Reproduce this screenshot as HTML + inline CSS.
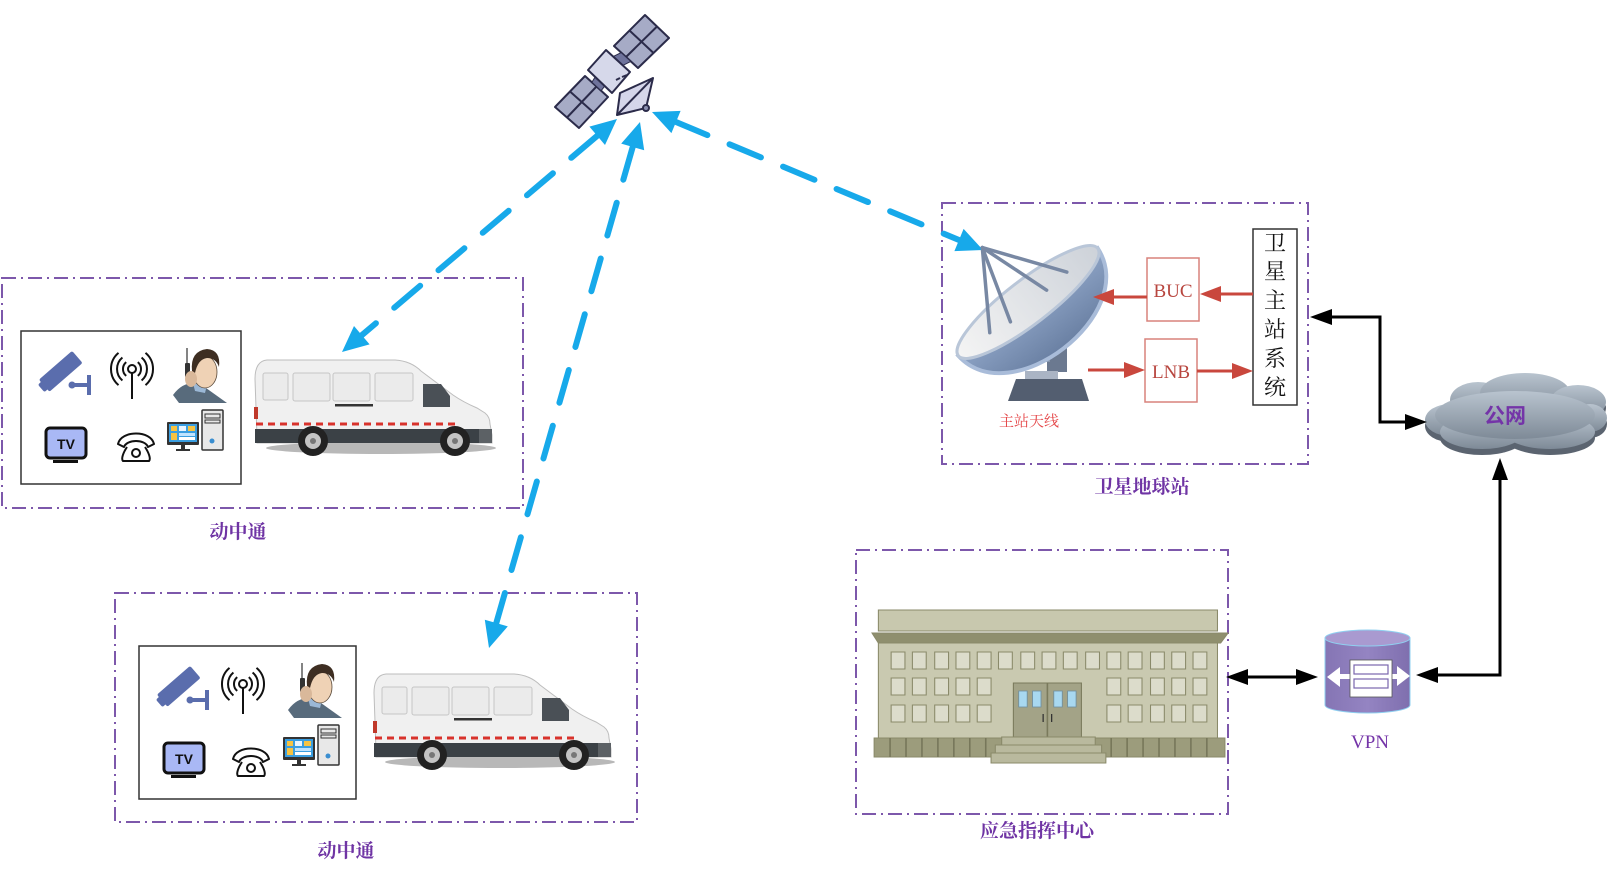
<!DOCTYPE html>
<html>
<head>
<meta charset="utf-8">
<style>
html,body{margin:0;padding:0;background:#fff;}
svg{display:block;}
.lbl{font-family:"Liberation Serif","Noto Serif CJK SC",serif;font-weight:bold;fill:#6f34a4;font-size:19px;}
</style>
</head>
<body>
<svg width="1617" height="871" viewBox="0 0 1617 871" xmlns="http://www.w3.org/2000/svg">
<defs>
<linearGradient id="dishBack" x1="0" y1="0" x2="0" y2="1">
 <stop offset="0" stop-color="#8ea4c6"/><stop offset="1" stop-color="#6a80a3"/>
</linearGradient>
<linearGradient id="dishFace" x1="0" y1="0" x2="1" y2="0">
 <stop offset="0" stop-color="#f4f4f4"/><stop offset="1" stop-color="#cdd2d9"/>
</linearGradient>
<linearGradient id="cloudG" x1="0" y1="0" x2="0" y2="1">
 <stop offset="0" stop-color="#b9c4cf"/><stop offset="1" stop-color="#7e8a97"/>
</linearGradient>
<linearGradient id="vpnG" x1="0" y1="0" x2="1" y2="0">
 <stop offset="0" stop-color="#8575b4"/><stop offset="0.5" stop-color="#9484c2"/><stop offset="1" stop-color="#7f6fae"/>
</linearGradient>
</defs>
<rect width="1617" height="871" fill="#fff"/>

<!-- dashed group boxes -->
<g fill="none" stroke="#7d58ab" stroke-width="2" stroke-dasharray="14 5 2 5">
 <rect x="2" y="278" width="521" height="230"/>
 <rect x="115" y="593" width="522" height="229"/>
 <rect x="942" y="203" width="366" height="261"/>
 <rect x="856" y="550" width="372" height="264"/>
</g>

<!-- ===== Satellite ===== -->
<g stroke="#2b2b4a" stroke-width="2" stroke-linejoin="round">
 <polygon points="645,15 669,38 638,68 614,46" fill="#a6abc6"/>
 <line x1="629.5" y1="30.5" x2="653.5" y2="53"/>
 <line x1="657" y1="26.5" x2="626" y2="57"/>
 <polygon points="585,76 608,97 579,128 555,107" fill="#a6abc6"/>
 <line x1="570" y1="91.5" x2="593.5" y2="112.5"/>
 <line x1="596.5" y1="86.5" x2="567" y2="117.5"/>
 <polygon points="613.2,56.6 621.2,52.6 630.8,61.4 622.8,65.4" fill="#6f739c" stroke-width="1"/>
 <polygon points="595.2,76.9 604.8,86.1 601.1,90.7 591.9,82.3" fill="#6f739c" stroke-width="1"/>
 <polygon points="606,50 630,72 612,93 588,70" fill="#d6d8ea"/>
 <polygon points="620,93 653,78 646,108 617,115" fill="#d5d6ea"/>
 <line x1="617" y1="115" x2="653" y2="78"/>
 <circle cx="646" cy="108" r="3" fill="#8a8fb0"/>
</g>
<line x1="616" y1="80" x2="620" y2="78" stroke="#2b2b4a" stroke-width="2"/>
<line x1="622" y1="77" x2="627" y2="75" stroke="#2b2b4a" stroke-width="2"/>

<!-- ===== Blue dashed links ===== -->
<g stroke="#17a9ea" stroke-width="6" stroke-linecap="round" stroke-dasharray="34 24" fill="none">
 <line x1="597.2" y1="135.8" x2="361.8" y2="335.2"/>
 <line x1="632.7" y1="147.0" x2="496.3" y2="623.0"/>
 <line x1="676.0" y1="122.0" x2="959.0" y2="240.0"/>
</g>
<g fill="#17a9ea">
 <polygon points="342,352 369.6,344.4 354.0,326.0"/>
 <polygon points="617,119 605.0,145.0 589.4,126.6"/>
 <polygon points="489,648 507.8,626.4 484.8,619.7"/>
 <polygon points="640,122 644.2,150.3 621.2,143.6"/>
 <polygon points="983,250 954.4,251.1 963.6,228.9"/>
 <polygon points="652,112 671.4,133.1 680.6,110.9"/>
</g>

<!-- ===== Panel 1 icons ===== -->
<g transform="translate(21,331)">
 <rect x="0" y="0" width="220" height="153" fill="#fff" stroke="#333" stroke-width="1.5"/>
 <g fill="#5a6dad">
  <g transform="translate(39,41) rotate(-41)">
   <rect x="-21" y="-8" width="44" height="16" rx="2"/>
   <rect x="-25" y="-5" width="6" height="10" rx="2"/>
  </g>
  <circle cx="51" cy="54" r="3.5"/>
  <rect x="51" y="52" width="15" height="4"/>
  <rect x="66" y="44" width="4" height="20"/>
 </g>
 <g fill="none" stroke="#111" stroke-width="2">
  <circle cx="111" cy="38" r="4"/>
  <line x1="111" y1="42" x2="111" y2="68"/>
  <path d="M105.2,31.1 A9,9 0 0 0 105.2,44.9"/>
  <path d="M116.8,31.1 A9,9 0 0 1 116.8,44.9"/>
  <path d="M101.4,26.5 A15,15 0 0 0 101.4,49.5"/>
  <path d="M120.6,26.5 A15,15 0 0 1 120.6,49.5"/>
  <path d="M97.5,21.9 A21,21 0 0 0 97.5,54.1"/>
  <path d="M124.5,21.9 A21,21 0 0 1 124.5,54.1"/>
 </g>
 <path d="M152,64 Q162,50 178,52 L206,72 L158,72 Z" fill="#586b7c"/>
 <path d="M172,52 L186,54 L184,62 L174,60 Z" fill="#9bb8d6"/>
 <ellipse cx="184" cy="41" rx="12" ry="16" fill="#efd2b5" stroke="#5a4a3a" stroke-width="0.8"/>
 <path d="M171,40 Q169,20 186,18 Q200,19 198,36 Q195,27 186,27 Q177,28 174,42 Z" fill="#3e2e22"/>
 <line x1="166" y1="17" x2="166" y2="32" stroke="#333" stroke-width="1.2"/>
 <rect x="164" y="32" width="5" height="14" fill="#333" rx="1"/>
 <ellipse cx="170" cy="48" rx="6" ry="8" fill="#d9b89a"/>
 <rect x="25" y="97" width="40" height="30" rx="4" fill="#a9b8f5" stroke="#111" stroke-width="3"/>
 <rect x="32" y="129" width="25" height="3" fill="#111"/>
 <text x="45" y="118" text-anchor="middle" font-family="Liberation Sans,sans-serif" font-weight="bold" font-size="14" fill="#111">TV</text>
 <g fill="none" stroke="#111" stroke-width="2" stroke-linejoin="round">
  <path d="M97,113 C100,99 130,99 133,113 L127,116 C124,108 106,108 103,116 Z"/>
  <path d="M106,116 C102,122 100,128 102,130 L128,130 C130,128 128,122 124,116"/>
  <circle cx="115" cy="122" r="4"/>
 </g>
 <rect x="146" y="91" width="32" height="23" fill="#333" rx="1"/>
 <rect x="148" y="93" width="28" height="18" fill="#3a9ee0"/>
 <rect x="150" y="95" width="6" height="5" fill="#f6c342"/>
 <rect x="158" y="95" width="7" height="5" fill="#e8f4ff"/>
 <rect x="167" y="95" width="7" height="5" fill="#f6c342"/>
 <rect x="150" y="102" width="6" height="7" fill="#f6c342"/>
 <rect x="158" y="102" width="16" height="3" fill="#bfe3ff"/>
 <rect x="158" y="106" width="16" height="3" fill="#ffffff"/>
 <rect x="160" y="114" width="4" height="4" fill="#333"/>
 <rect x="155" y="118" width="14" height="2" fill="#333"/>
 <rect x="181" y="79" width="21" height="40" fill="#e8e8e8" stroke="#333" stroke-width="1.5" rx="1"/>
 <rect x="184" y="83" width="15" height="4" fill="none" stroke="#333" stroke-width="1"/>
 <rect x="184" y="89" width="15" height="3" fill="none" stroke="#333" stroke-width="1"/>
 <circle cx="191" cy="110" r="2.5" fill="#3a8ed0"/>
</g>

<!-- ===== Panel 2 icons ===== -->
<g transform="translate(139,646)">
 <rect x="0" y="0" width="217" height="153" fill="#fff" stroke="#333" stroke-width="1.5"/>
 <g fill="#5a6dad">
  <g transform="translate(39,41) rotate(-41)">
   <rect x="-21" y="-8" width="44" height="16" rx="2"/>
   <rect x="-25" y="-5" width="6" height="10" rx="2"/>
  </g>
  <circle cx="51" cy="54" r="3.5"/>
  <rect x="51" y="52" width="15" height="4"/>
  <rect x="66" y="44" width="4" height="20"/>
 </g>
 <g fill="none" stroke="#111" stroke-width="2">
  <circle cx="104" cy="38" r="4"/>
  <line x1="104" y1="42" x2="104" y2="68"/>
  <path d="M98.2,31.1 A9,9 0 0 0 98.2,44.9"/>
  <path d="M109.8,31.1 A9,9 0 0 1 109.8,44.9"/>
  <path d="M94.4,26.5 A15,15 0 0 0 94.4,49.5"/>
  <path d="M113.6,26.5 A15,15 0 0 1 113.6,49.5"/>
  <path d="M90.5,21.9 A21,21 0 0 0 90.5,54.1"/>
  <path d="M117.5,21.9 A21,21 0 0 1 117.5,54.1"/>
 </g>
 <path d="M149,64 Q159,50 175,52 L203,72 L155,72 Z" fill="#586b7c"/>
 <path d="M169,52 L183,54 L181,62 L171,60 Z" fill="#9bb8d6"/>
 <ellipse cx="181" cy="41" rx="12" ry="16" fill="#efd2b5" stroke="#5a4a3a" stroke-width="0.8"/>
 <path d="M168,40 Q166,20 183,18 Q197,19 195,36 Q192,27 183,27 Q174,28 171,42 Z" fill="#3e2e22"/>
 <line x1="163" y1="17" x2="163" y2="32" stroke="#333" stroke-width="1.2"/>
 <rect x="161" y="32" width="5" height="14" fill="#333" rx="1"/>
 <ellipse cx="167" cy="48" rx="6" ry="8" fill="#d9b89a"/>
 <rect x="25" y="97" width="40" height="30" rx="4" fill="#a9b8f5" stroke="#111" stroke-width="3"/>
 <rect x="32" y="129" width="25" height="3" fill="#111"/>
 <text x="45" y="118" text-anchor="middle" font-family="Liberation Sans,sans-serif" font-weight="bold" font-size="14" fill="#111">TV</text>
 <g fill="none" stroke="#111" stroke-width="2" stroke-linejoin="round">
  <path d="M94,113 C97,99 127,99 130,113 L124,116 C121,108 103,108 100,116 Z"/>
  <path d="M103,116 C99,122 97,128 99,130 L125,130 C127,128 125,122 121,116"/>
  <circle cx="112" cy="122" r="4"/>
 </g>
 <rect x="144" y="91" width="32" height="23" fill="#333" rx="1"/>
 <rect x="146" y="93" width="28" height="18" fill="#3a9ee0"/>
 <rect x="148" y="95" width="6" height="5" fill="#f6c342"/>
 <rect x="156" y="95" width="7" height="5" fill="#e8f4ff"/>
 <rect x="165" y="95" width="7" height="5" fill="#f6c342"/>
 <rect x="148" y="102" width="6" height="7" fill="#f6c342"/>
 <rect x="156" y="102" width="16" height="3" fill="#bfe3ff"/>
 <rect x="156" y="106" width="16" height="3" fill="#ffffff"/>
 <rect x="158" y="114" width="4" height="4" fill="#333"/>
 <rect x="153" y="118" width="14" height="2" fill="#333"/>
 <rect x="179" y="79" width="21" height="40" fill="#e8e8e8" stroke="#333" stroke-width="1.5" rx="1"/>
 <rect x="182" y="83" width="15" height="4" fill="none" stroke="#333" stroke-width="1"/>
 <rect x="182" y="89" width="15" height="3" fill="none" stroke="#333" stroke-width="1"/>
 <circle cx="189" cy="110" r="2.5" fill="#3a8ed0"/>
</g>

<!-- ===== Van 1 ===== -->
<g transform="translate(253,357)">
 <ellipse cx="128" cy="91" rx="115" ry="6" fill="#7d7d7d" opacity="0.55"/>
 <path d="M4,80 L2,22 Q2,4 14,3 L142,3 Q158,4 168,14 L200,38 Q210,45 224,51 L232,56 Q237,60 237,67 L239,78 L239,86 L4,86 Z" fill="#f0f0f0" stroke="#bdbdbd" stroke-width="1"/>
 <g fill="#ebebeb" stroke="#c6c6c6" stroke-width="1">
  <rect x="10" y="16" width="25" height="27" rx="2"/>
  <rect x="40" y="16" width="37" height="28" rx="2"/>
  <rect x="80" y="16" width="37" height="28" rx="2"/>
  <rect x="122" y="16" width="38" height="28" rx="2"/>
 </g>
 <rect x="82" y="47" width="38" height="2.5" fill="#333"/>
 <polygon points="170,27 188,27 197,39 197,50 170,50" fill="#4a5056"/>
 <path d="M2,72 L237,72 L239,86 L2,86 Z" fill="#3b4146"/>
 <line x1="3" y1="67" x2="205" y2="67" stroke="#d8322b" stroke-width="3" stroke-dasharray="7 5"/>
 <rect x="226" y="72" width="13" height="14" fill="#5c6165"/>
 <rect x="1" y="50" width="4" height="12" fill="#c0392b"/>
 <circle cx="60" cy="84" r="15" fill="#222"/><circle cx="60" cy="84" r="8" fill="#c4c4c4"/><circle cx="60" cy="84" r="3" fill="#777"/>
 <circle cx="202" cy="84" r="15" fill="#222"/><circle cx="202" cy="84" r="8" fill="#c4c4c4"/><circle cx="202" cy="84" r="3" fill="#777"/>
</g>

<!-- ===== Van 2 ===== -->
<g transform="translate(372,671)">
 <ellipse cx="128" cy="91" rx="115" ry="6" fill="#7d7d7d" opacity="0.55"/>
 <path d="M4,80 L2,22 Q2,4 14,3 L142,3 Q158,4 168,14 L200,38 Q210,45 224,51 L232,56 Q237,60 237,67 L239,78 L239,86 L4,86 Z" fill="#f0f0f0" stroke="#bdbdbd" stroke-width="1"/>
 <g fill="#ebebeb" stroke="#c6c6c6" stroke-width="1">
  <rect x="10" y="16" width="25" height="27" rx="2"/>
  <rect x="40" y="16" width="37" height="28" rx="2"/>
  <rect x="80" y="16" width="37" height="28" rx="2"/>
  <rect x="122" y="16" width="38" height="28" rx="2"/>
 </g>
 <rect x="82" y="47" width="38" height="2.5" fill="#333"/>
 <polygon points="170,27 188,27 197,39 197,50 170,50" fill="#4a5056"/>
 <path d="M2,72 L237,72 L239,86 L2,86 Z" fill="#3b4146"/>
 <line x1="3" y1="67" x2="205" y2="67" stroke="#d8322b" stroke-width="3" stroke-dasharray="7 5"/>
 <rect x="226" y="72" width="13" height="14" fill="#5c6165"/>
 <rect x="1" y="50" width="4" height="12" fill="#c0392b"/>
 <circle cx="60" cy="84" r="15" fill="#222"/><circle cx="60" cy="84" r="8" fill="#c4c4c4"/><circle cx="60" cy="84" r="3" fill="#777"/>
 <circle cx="202" cy="84" r="15" fill="#222"/><circle cx="202" cy="84" r="8" fill="#c4c4c4"/><circle cx="202" cy="84" r="3" fill="#777"/>
</g>

<!-- ===== Dish antenna ===== -->
<rect x="1047" y="318" width="20" height="54" fill="#6b7990"/>
<rect x="1010" y="352" width="40" height="10" fill="#8595ac"/>
<rect x="1025" y="371" width="33" height="8" fill="#aab4c4"/>
<polygon points="1008,401 1016,379 1082,379 1089,401" fill="#535e70"/>
<g transform="translate(1028,302) rotate(-37.6)">
 <path d="M-88,0 C-82,78 82,78 88,0 Z" fill="url(#dishBack)" stroke="#a9bcd9" stroke-width="4"/>
 <ellipse cx="0" cy="0" rx="88" ry="22" fill="url(#dishFace)" stroke="#b9c6d8" stroke-width="3"/>
 <g stroke="#7888a3" stroke-width="3.5" stroke-linecap="round">
  <line x1="-3" y1="-71" x2="49" y2="0"/>
  <line x1="-3" y1="-71" x2="-49" y2="1"/>
  <line x1="-3" y1="-71" x2="-26" y2="5"/>
  <line x1="-3" y1="-71" x2="22" y2="2"/>
 </g>
</g>
<text x="1029" y="426" text-anchor="middle" font-family="Liberation Serif,'Noto Serif CJK SC',serif" font-size="15" fill="#e5484a">主站天线</text>

<!-- BUC / LNB -->
<rect x="1147" y="258" width="52" height="63" fill="#fff" stroke="#d8827c" stroke-width="1.5"/>
<rect x="1145" y="339" width="52" height="63" fill="#fff" stroke="#d8827c" stroke-width="1.5"/>
<text x="1173" y="297" text-anchor="middle" font-family="Liberation Serif,serif" font-size="19" fill="#b8463f">BUC</text>
<text x="1171" y="378" text-anchor="middle" font-family="Liberation Serif,serif" font-size="19" fill="#b8463f">LNB</text>

<!-- system box -->
<rect x="1253" y="229" width="44" height="176" fill="#fff" stroke="#333" stroke-width="1.5"/>
<g font-family="Liberation Serif,'Noto Serif CJK SC',serif" font-size="22" fill="#111" text-anchor="middle">
 <text x="1275" y="251">卫</text>
 <text x="1275" y="279">星</text>
 <text x="1275" y="308">主</text>
 <text x="1275" y="337">站</text>
 <text x="1275" y="366">系</text>
 <text x="1275" y="395">统</text>
</g>

<!-- red arrows -->
<g stroke="#c9473d" stroke-width="3">
 <line x1="1253" y1="294" x2="1218" y2="294"/>
 <line x1="1147" y1="297" x2="1111" y2="297"/>
 <line x1="1088" y1="370" x2="1127" y2="370"/>
 <line x1="1197" y1="371" x2="1235" y2="371"/>
</g>
<g fill="#c9473d">
 <polygon points="1200,294 1221,286 1221,302"/>
 <polygon points="1093,297 1114,289 1114,305"/>
 <polygon points="1145,370 1124,362 1124,378"/>
 <polygon points="1253,371 1232,363 1232,379"/>
</g>

<!-- ===== Cloud ===== -->
<g transform="translate(0,6)" fill="#5b6470">
 <ellipse cx="1450" cy="420" rx="25" ry="16"/>
 <ellipse cx="1478" cy="400" rx="28" ry="18"/>
 <ellipse cx="1525" cy="393" rx="45" ry="20"/>
 <ellipse cx="1578" cy="402" rx="28" ry="17"/>
 <ellipse cx="1590" cy="418" rx="17" ry="14"/>
 <ellipse cx="1482" cy="432" rx="42" ry="17"/>
 <ellipse cx="1550" cy="432" rx="45" ry="17"/>
 <ellipse cx="1515" cy="415" rx="80" ry="24"/>
</g>
<g fill="url(#cloudG)">
 <ellipse cx="1450" cy="420" rx="25" ry="16"/>
 <ellipse cx="1478" cy="400" rx="28" ry="18"/>
 <ellipse cx="1525" cy="393" rx="45" ry="20"/>
 <ellipse cx="1578" cy="402" rx="28" ry="17"/>
 <ellipse cx="1590" cy="418" rx="17" ry="14"/>
 <ellipse cx="1482" cy="432" rx="42" ry="17"/>
 <ellipse cx="1550" cy="432" rx="45" ry="17"/>
 <ellipse cx="1515" cy="415" rx="80" ry="24"/>
</g>
<text x="1505" y="423" text-anchor="middle" font-family="Liberation Sans,'Noto Sans CJK SC',sans-serif" font-weight="bold" font-size="21" fill="#7434a8">公网</text>

<!-- ===== Building ===== -->
<g transform="translate(872,0) scale(1.063,1) translate(-867,0)">
<g stroke="#8a8a6a" stroke-width="1">
 <rect x="873" y="610" width="319" height="21" fill="#c8c8ae"/>
 <polygon points="867,633 1202,633 1195,643 873,643" fill="#8f8f6e"/>
 <rect x="873" y="643" width="319" height="95" fill="#c9c9b0"/>
 <rect x="869" y="738" width="330" height="19" fill="#9c9c7c"/>
</g>
<g stroke="#77775a" stroke-width="1.5">
 <line x1="884" y1="738" x2="884" y2="757"/><line x1="899" y1="738" x2="899" y2="757"/>
 <line x1="914" y1="738" x2="914" y2="757"/><line x1="929" y1="738" x2="929" y2="757"/>
 <line x1="944" y1="738" x2="944" y2="757"/><line x1="959" y1="738" x2="959" y2="757"/>
 <line x1="974" y1="738" x2="974" y2="757"/>
 <line x1="1092" y1="738" x2="1092" y2="757"/><line x1="1107" y1="738" x2="1107" y2="757"/>
 <line x1="1122" y1="738" x2="1122" y2="757"/><line x1="1137" y1="738" x2="1137" y2="757"/>
 <line x1="1152" y1="738" x2="1152" y2="757"/><line x1="1167" y1="738" x2="1167" y2="757"/>
 <line x1="1182" y1="738" x2="1182" y2="757"/>
</g>
<g fill="#dcdccb" stroke="#8a8a6a" stroke-width="1">
 <rect x="885" y="652" width="13" height="17"/><rect x="905" y="652" width="13" height="17"/><rect x="926" y="652" width="13" height="17"/><rect x="946" y="652" width="13" height="17"/><rect x="966" y="652" width="13" height="17"/><rect x="986" y="652" width="13" height="17"/><rect x="1007" y="652" width="13" height="17"/><rect x="1027" y="652" width="13" height="17"/><rect x="1047" y="652" width="13" height="17"/><rect x="1068" y="652" width="13" height="17"/><rect x="1088" y="652" width="13" height="17"/><rect x="1108" y="652" width="13" height="17"/><rect x="1129" y="652" width="13" height="17"/><rect x="1149" y="652" width="13" height="17"/><rect x="1169" y="652" width="13" height="17"/>
 <rect x="885" y="678" width="13" height="17"/><rect x="905" y="678" width="13" height="17"/><rect x="926" y="678" width="13" height="17"/><rect x="946" y="678" width="13" height="17"/><rect x="966" y="678" width="13" height="17"/>
 <rect x="1088" y="678" width="13" height="17"/><rect x="1108" y="678" width="13" height="17"/><rect x="1129" y="678" width="13" height="17"/><rect x="1149" y="678" width="13" height="17"/><rect x="1169" y="678" width="13" height="17"/>
 <rect x="885" y="705" width="13" height="17"/><rect x="905" y="705" width="13" height="17"/><rect x="926" y="705" width="13" height="17"/><rect x="946" y="705" width="13" height="17"/><rect x="966" y="705" width="13" height="17"/>
 <rect x="1088" y="705" width="13" height="17"/><rect x="1108" y="705" width="13" height="17"/><rect x="1129" y="705" width="13" height="17"/><rect x="1149" y="705" width="13" height="17"/><rect x="1169" y="705" width="13" height="17"/>
</g>
<rect x="1000" y="683" width="64" height="54" fill="#a3a387" stroke="#7a7a5c" stroke-width="1"/>
<line x1="1032" y1="683" x2="1032" y2="737" stroke="#7a7a5c" stroke-width="1.5"/>
<g fill="#a8d8f0" stroke="#6f8f9f" stroke-width="0.8">
 <rect x="1005" y="691" width="8" height="16"/><rect x="1018" y="691" width="8" height="16"/>
 <rect x="1038" y="691" width="8" height="16"/><rect x="1051" y="691" width="8" height="16"/>
</g>
<line x1="1028" y1="714" x2="1028" y2="722" stroke="#333" stroke-width="1.2"/>
<line x1="1036" y1="714" x2="1036" y2="722" stroke="#333" stroke-width="1.2"/>
<g fill="#b9b99e" stroke="#8a8a6a" stroke-width="1">
 <rect x="989" y="737" width="88" height="8"/>
 <rect x="983" y="745" width="100" height="8"/>
 <rect x="979" y="753" width="108" height="10"/>
</g>
</g>

<!-- ===== VPN ===== -->
<path d="M1325,638 L1325,705 A42.5,8 0 0 0 1410,705 L1410,638 Z" fill="url(#vpnG)" stroke="#8fd0f0" stroke-width="1"/>
<ellipse cx="1367.5" cy="638" rx="42.5" ry="8" fill="#a99ad0" stroke="#8fd0f0" stroke-width="1"/>
<g fill="#fff">
 <polygon points="1327,677 1340,667 1340,687"/>
 <polygon points="1410,676 1397,666 1397,686"/>
 <rect x="1338" y="674" width="62" height="5"/>
 <rect x="1350" y="660" width="42" height="37" stroke="#555" stroke-width="0.8"/>
</g>
<rect x="1354" y="665" width="34" height="9" fill="none" stroke="#7a66ad" stroke-width="1.2"/>
<rect x="1354" y="679" width="34" height="9" fill="none" stroke="#7a66ad" stroke-width="1.2"/>
<text x="1370" y="748" text-anchor="middle" font-family="Liberation Serif,serif" font-size="19" fill="#7434a8">VPN</text>

<!-- ===== Black arrows ===== -->
<g fill="none" stroke="#000" stroke-width="3">
 <path d="M1330,317 H1380 V422 H1407"/>
 <line x1="1246" y1="677" x2="1298" y2="677"/>
 <path d="M1436,675 H1500 V478"/>
</g>
<g fill="#000">
 <polygon points="1310,317 1332,309 1332,325"/>
 <polygon points="1427,422 1405,414 1405,430"/>
 <polygon points="1226,677 1248,669 1248,685"/>
 <polygon points="1318,677 1296,669 1296,685"/>
 <polygon points="1416,675 1438,667 1438,683"/>
 <polygon points="1500,458 1492,480 1508,480"/>
</g>

<!-- ===== Labels ===== -->
<text class="lbl" x="238" y="538" text-anchor="middle">动中通</text>
<text class="lbl" x="346" y="857" text-anchor="middle">动中通</text>
<text class="lbl" x="1142" y="493" text-anchor="middle">卫星地球站</text>
<text class="lbl" x="1037" y="837" text-anchor="middle">应急指挥中心</text>
</svg>
</body>
</html>
